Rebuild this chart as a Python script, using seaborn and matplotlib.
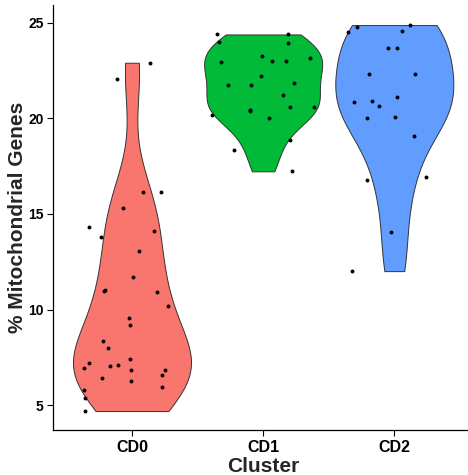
"""
Violin plot of % mitochondrial genes per cluster, with jittered cells on top.
"""

import numpy as np
import pandas as pd
import matplotlib
matplotlib.use("Agg")
import matplotlib.pyplot as plt
import seaborn as sns

# ---------------------------------------------
# Data
# ---------------------------------------------
CLUSTERS = ["CD0", "CD1", "CD2"]
PALETTE = {"CD0": "#F8766D", "CD1": "#00BA38", "CD2": "#619CFF"}

cd0_pct = [22.91, 22.04, 16.16, 16.16, 15.29, 14.30, 13.79, 14.09, 13.06, 11.70,
           10.97, 11.02, 10.93, 10.20, 9.54, 9.17, 8.34, 8.00, 7.43, 7.20,
           6.94, 7.03, 7.08, 6.82, 6.85, 6.59, 6.43, 6.24, 5.93, 5.79,
           5.39, 4.69]
cd0_jitter = [0.135, -0.117, 0.086, 0.219, -0.066, -0.328, -0.236, 0.168, 0.051, 0.010,
              -0.213, -0.206, 0.191, 0.277, -0.023, -0.013, -0.221, -0.185, -0.013, -0.328,
              -0.368, -0.168, -0.109, -0.010, 0.252, 0.226, -0.229, -0.010, 0.229, -0.368,
              -0.358, -0.361]

cd1_pct = [24.39, 24.39, 23.97, 23.92, 23.27, 23.14, 23.00, 23.00, 22.96, 22.23,
           21.86, 21.74, 21.76, 21.20, 20.42, 20.37, 20.59, 20.61, 20.00, 20.16,
           18.88, 18.33, 17.23]
cd1_jitter = [-0.351, 0.191, -0.333, 0.188, -0.005, 0.361, 0.069, 0.178, -0.325, -0.015,
              0.234, -0.267, -0.089, 0.152, -0.104, -0.104, 0.206, 0.389, 0.046, -0.391,
              0.204, -0.221, 0.223]

cd2_pct = [24.88, 24.76, 24.53, 24.57, 23.66, 23.68, 22.32, 22.32, 21.13, 20.84,
           20.92, 20.64, 20.00, 20.08, 19.09, 16.79, 16.95, 14.07, 12.01]
cd2_jitter = [0.120, -0.284, -0.355, 0.059, -0.046, 0.021, -0.195, 0.160, 0.023, -0.307,
              -0.170, -0.117, -0.206, 0.005, 0.150, -0.210, 0.239, -0.025, -0.320]

Y_TICKS = [5, 10, 15, 20, 25]

# ---------------------------------------------
# Build a long table
# ---------------------------------------------
df = pd.DataFrame({
    "cluster": (["CD0"] * len(cd0_pct) + ["CD1"] * len(cd1_pct) + ["CD2"] * len(cd2_pct)),
    "pct":     cd0_pct + cd1_pct + cd2_pct,
    "jitter":  cd0_jitter + cd1_jitter + cd2_jitter,
})
df["cluster"] = pd.Categorical(df["cluster"], categories=CLUSTERS, ordered=True)

# ---------------------------------------------
# Plot
# ---------------------------------------------
sns.set_style("ticks")
plt.rcParams["font.family"] = ["Liberation Sans", "DejaVu Sans"]

W, H = 468, 475
fig = plt.figure(figsize=(W / 100, H / 100), dpi=100)
ax = fig.add_axes([53.3 / W, 45 / H, (473 - 53.3) / W, (430 - 5) / H])

sns.violinplot(data=df, x="cluster", y="pct", hue="cluster", palette=PALETTE,
               order=CLUSTERS, cut=0, density_norm="area", width=0.9,
               bw_adjust=0.9, inner=None, linecolor="#333333", linewidth=0.7,
               saturation=1, legend=False, ax=ax)

codes = df["cluster"].cat.codes.to_numpy()
ax.scatter(codes + df["jitter"].to_numpy(), df["pct"], s=8, color="black",
           linewidths=0, zorder=3)

ax.set_xlim(-0.6, 2.6)
ax.set_ylim(3.70, 25.93)
ax.set_yticks(Y_TICKS)
ax.set_yticklabels([str(t) for t in Y_TICKS])

ax.set_xlabel("Cluster", fontsize=15, fontweight="bold", labelpad=2)
ax.set_ylabel("% Mitochondrial Genes", fontsize=15, fontweight="bold", labelpad=1)
ax.tick_params(axis="x", labelsize=11.5, length=4, width=0.8, color="black", pad=3)
ax.tick_params(axis="y", labelsize=10, length=4, width=0.8, color="black", pad=3)
for lab in ax.get_xticklabels() + ax.get_yticklabels():
    lab.set_fontweight("bold")
    lab.set_color("black")

sns.despine(ax=ax)
for side in ["left", "bottom"]:
    ax.spines[side].set_linewidth(0.9)
    ax.spines[side].set_color("black")

fig.savefig("out.png", dpi=100)
plt.close(fig)
